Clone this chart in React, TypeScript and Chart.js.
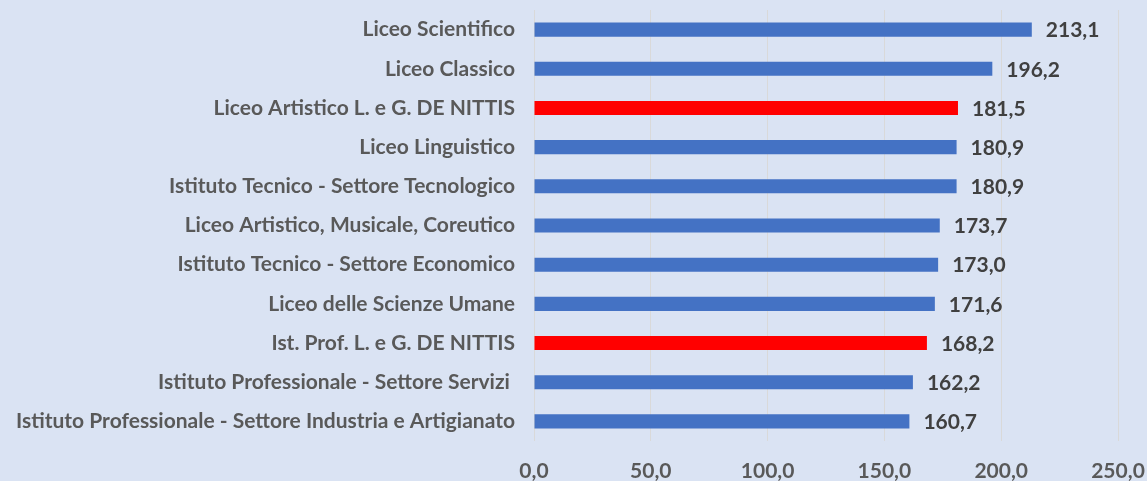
import React, { useEffect, useRef } from "react";
import { Chart, registerables } from "chart.js";

Chart.register(...registerables);

const categories: string[] = [
  "Liceo Scientifico",
  "Liceo Classico",
  "Liceo Artistico L. e G. DE NITTIS",
  "Liceo Linguistico",
  "Istituto Tecnico - Settore Tecnologico",
  "Liceo Artistico, Musicale, Coreutico",
  "Istituto Tecnico - Settore Economico",
  "Liceo delle Scienze Umane",
  "Ist. Prof. L. e G. DE NITTIS",
  "Istituto Professionale - Settore Servizi ",
  "Istituto Professionale - Settore Industria e Artigianato",
];

const values: number[] = [213.1, 196.2, 181.5, 180.9, 180.9, 173.7, 173.0, 171.6, 168.2, 162.2, 160.7];

const highlighted: boolean[] = [false, false, true, false, false, false, false, false, true, false, false];

const xTicks: number[] = [0, 50, 100, 150, 200, 250];

const BLUE = "#4472C4";
const RED = "#FF0000";
const BG = "#DAE3F3";
const FONT = "Lato";
const SIZE = 21;

const fmt = (v: number) => v.toFixed(1).replace(".", ",");

const valueLabels = {
  id: "valueLabels",
  afterDatasetsDraw(chart: any) {
    const ctx = chart.ctx;
    const meta = chart.getDatasetMeta(0);
    ctx.save();
    ctx.font = `bold ${SIZE}px ${FONT}`;
    ctx.fillStyle = "#404040";
    ctx.textAlign = "left";
    ctx.textBaseline = "middle";
    meta.data.forEach((bar: any, i: number) => {
      ctx.fillText(fmt(values[i]), bar.x + 14, bar.y + 1);
    });
    ctx.restore();
  },
};

export default function App() {
  const ref = useRef<HTMLCanvasElement | null>(null);

  useEffect(() => {
    document.body.style.margin = "0";
    if (!ref.current) return;
    const chart = new Chart(ref.current, {
      type: "bar",
      data: {
        labels: categories,
        datasets: [
          {
            data: values,
            backgroundColor: highlighted.map((h) => (h ? RED : BLUE)),
            barPercentage: 0.36,
            categoryPercentage: 1,
          },
        ],
      },
      options: {
        indexAxis: "y",
        animation: false,
        responsive: false,
        maintainAspectRatio: false,
        layout: { padding: { top: 10, right: 29, left: 0, bottom: 0 } },
        plugins: {
          legend: { display: false },
          tooltip: { enabled: false },
        },
        scales: {
          x: {
            min: 0,
            max: 250,
            afterBuildTicks: (scale: any) => {
              scale.ticks = xTicks.map((v) => ({ value: v }));
            },
            afterFit: (scale: any) => {
              scale.paddingLeft = 0;
              scale.paddingRight = 0;
              scale.height = 40;
            },
            grid: { color: "#D9D9D9", lineWidth: 1, drawTicks: false },
            border: { display: false },
            ticks: {
              padding: 18,
              color: "#595959",
              font: { family: FONT, size: SIZE, weight: "bold" },
              callback: (v: any) => fmt(Number(v)),
              maxRotation: 0,
            },
          },
          y: {
            afterFit: (scale: any) => {
              scale.width = 534;
              scale.paddingTop = 0;
              scale.paddingBottom = 0;
            },
            grid: { display: false, drawTicks: false },
            border: { display: false },
            ticks: {
              padding: 19,
              color: "#595959",
              font: { family: FONT, size: SIZE, weight: "bold" },
              autoSkip: false,
            },
          },
        },
      },
      plugins: [valueLabels],
    });
    return () => chart.destroy();
  }, []);

  return (
    <div style={{ position: "absolute", left: 0, top: 0, width: 1147, height: 481, background: BG }}>
      <canvas ref={ref} width={1147} height={481} style={{ display: "block" }} />
    </div>
  );
}
